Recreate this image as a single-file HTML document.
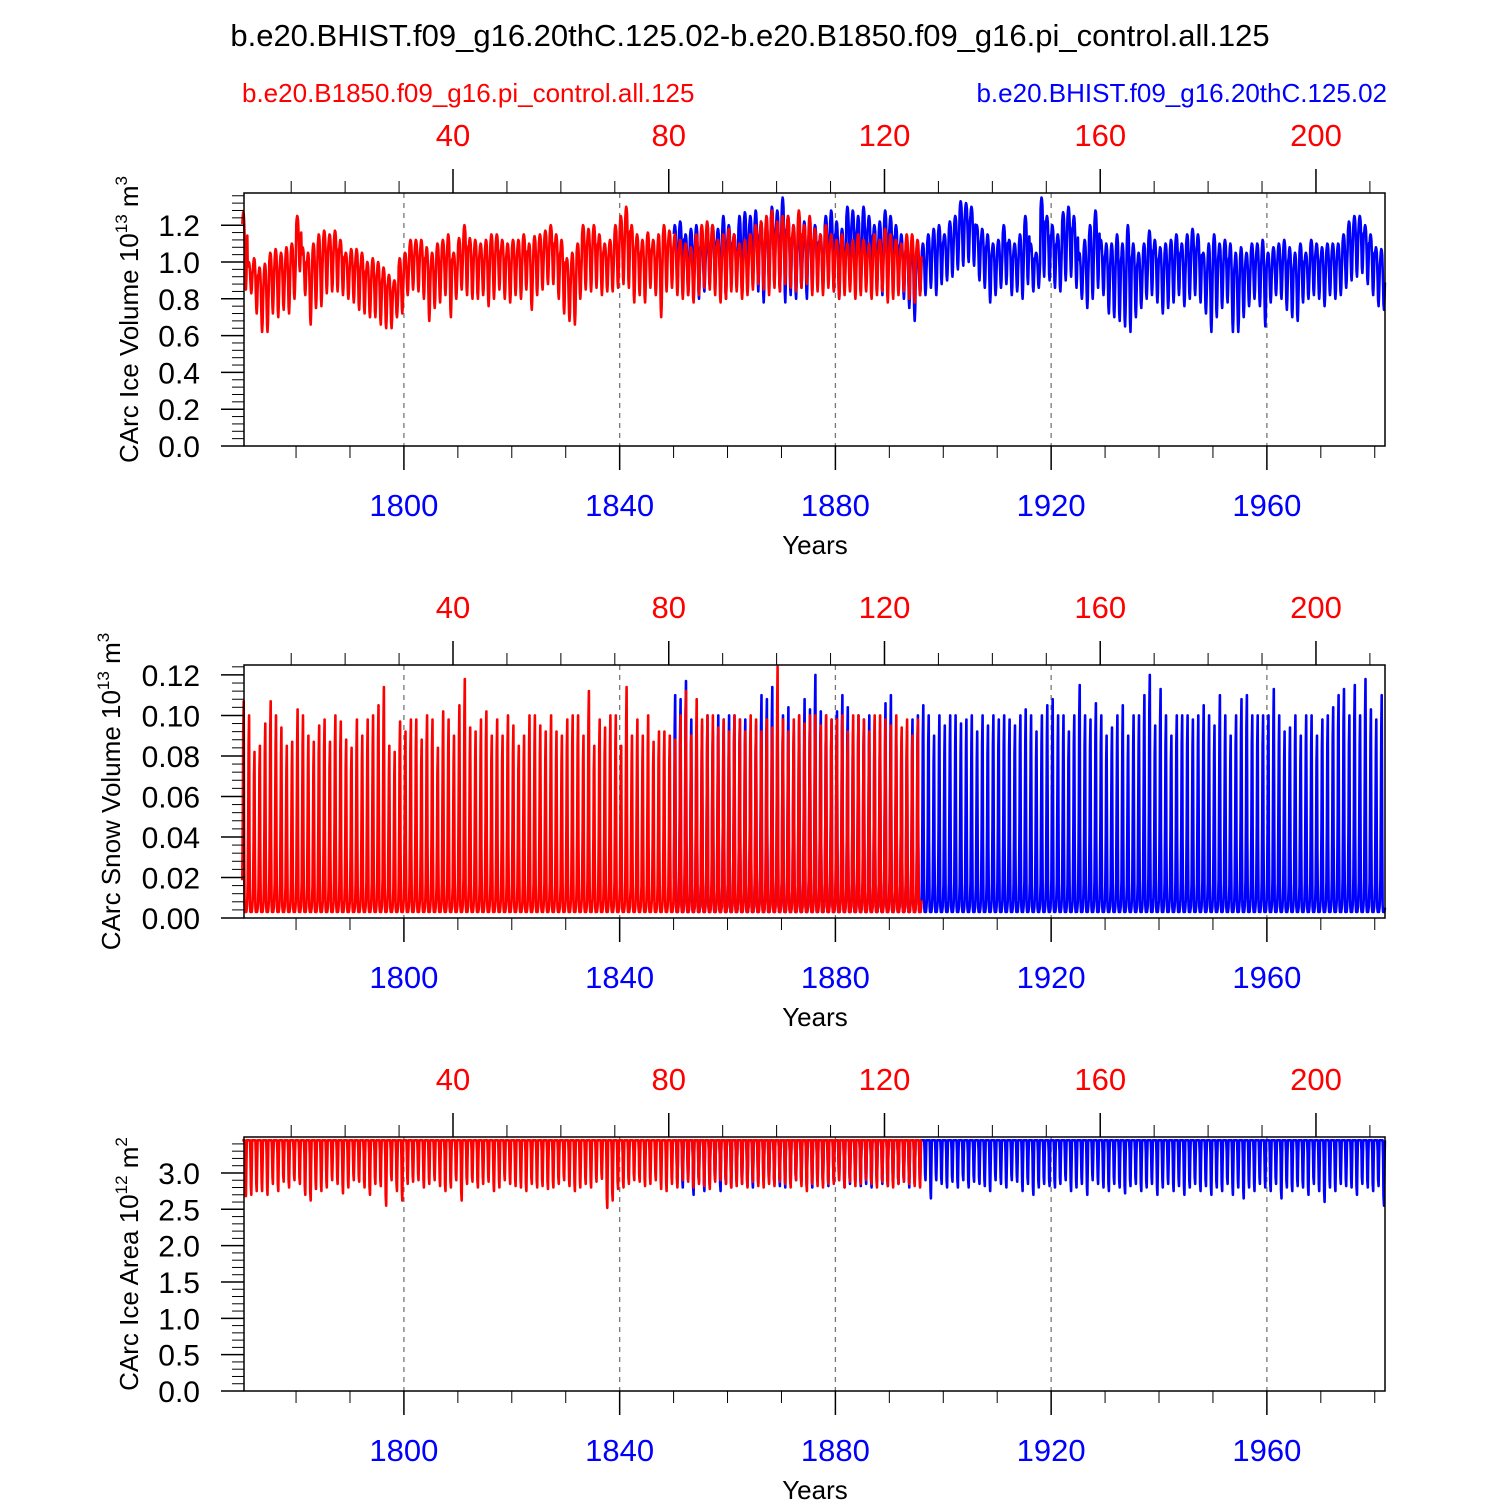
<!DOCTYPE html>
<html><head><meta charset="utf-8">
<style>
html,body{margin:0;padding:0;background:#fff;}
svg{display:block;font-family:"Liberation Sans",sans-serif;}
</style></head>
<body>
<svg id="chart" width="1500" height="1500" viewBox="0 0 1500 1500" xmlns="http://www.w3.org/2000/svg">
<text x="750" y="46" font-size="31" text-anchor="middle">b.e20.BHIST.f09_g16.20thC.125.02-b.e20.B1850.f09_g16.pi_control.all.125</text>
<text x="242" y="102" font-size="26" fill="#f00">b.e20.B1850.f09_g16.pi_control.all.125</text>
<text x="1387" y="102" font-size="26" fill="#00f" text-anchor="end">b.e20.BHIST.f09_g16.20thC.125.02</text>
</svg>
<script>
// ---- data (annual max/min) ----
const redStartYear = 1770;   // calendar position of red model year 1
const blueStartYear = 1850;
const redVolMax = [1.27,1.0,1.02,0.97,0.99,1.05,1.07,1.05,1.08,1.1,1.25,1.08,1.05,1.1,1.15,1.17,1.15,1.17,1.12,1.05,1.07,1.07,1.05,1.0,1.02,1.0,0.97,0.93,0.9,1.02,1.05,1.12,1.12,1.12,1.08,1.05,1.1,1.12,1.15,1.05,1.13,1.2,1.13,1.12,1.1,1.12,1.15,1.15,1.12,1.1,1.12,1.12,1.15,1.1,1.14,1.15,1.17,1.2,1.15,1.12,1.02,1.05,1.1,1.2,1.18,1.2,1.15,1.1,1.12,1.2,1.25,1.3,1.2,1.15,1.12,1.16,1.12,1.15,1.2,1.17,1.15,1.12,1.1,1.08,1.15,1.2,1.22,1.2,1.12,1.15,1.18,1.15,1.1,1.12,1.15,1.2,1.22,1.25,1.28,1.22,1.25,1.25,1.2,1.28,1.2,1.25,1.18,1.15,1.2,1.15,1.12,1.15,1.1,1.12,1.15,1.12,1.1,1.15,1.12,1.18,1.15,1.12,1.1,1.15,1.15,1.12];
const redVolMin = [0.85,0.83,0.72,0.62,0.62,0.72,0.7,0.74,0.72,0.8,0.95,0.82,0.66,0.75,0.76,0.83,0.84,0.84,0.82,0.8,0.78,0.74,0.72,0.7,0.7,0.66,0.64,0.64,0.7,0.72,0.82,0.85,0.84,0.8,0.68,0.75,0.78,0.82,0.7,0.8,0.85,0.82,0.8,0.8,0.82,0.76,0.8,0.85,0.8,0.78,0.82,0.8,0.85,0.74,0.82,0.85,0.88,0.88,0.8,0.72,0.68,0.66,0.8,0.85,0.84,0.86,0.82,0.84,0.84,0.86,0.88,0.86,0.78,0.82,0.78,0.86,0.82,0.7,0.84,0.86,0.82,0.8,0.82,0.78,0.82,0.86,0.85,0.82,0.78,0.8,0.84,0.84,0.8,0.82,0.85,0.88,0.85,0.82,0.86,0.84,0.88,0.86,0.84,0.86,0.88,0.82,0.84,0.82,0.86,0.84,0.8,0.82,0.84,0.8,0.82,0.84,0.8,0.82,0.84,0.78,0.8,0.82,0.84,0.8,0.78,0.82];
const blueVolMax = [1.2,1.22,1.15,1.18,1.2,1.1,1.15,1.2,1.18,1.25,1.2,1.15,1.25,1.27,1.25,1.28,1.22,1.2,1.3,1.28,1.35,1.25,1.2,1.15,1.22,1.18,1.2,1.15,1.25,1.28,1.22,1.18,1.3,1.28,1.25,1.3,1.25,1.2,1.22,1.28,1.25,1.2,1.15,1.12,1.08,1.05,1.1,1.15,1.18,1.2,1.15,1.22,1.25,1.33,1.32,1.3,1.2,1.18,1.15,1.1,1.12,1.2,1.12,1.1,1.15,1.25,1.1,1.05,1.35,1.25,1.2,1.15,1.27,1.3,1.25,1.05,1.12,1.2,1.28,1.12,1.1,1.1,1.15,1.1,1.2,1.1,1.05,1.1,1.17,1.12,1.08,1.1,1.12,1.15,1.1,1.15,1.18,1.15,1.05,1.1,1.15,1.1,1.12,1.1,1.05,1.08,1.05,1.1,1.1,1.12,1.05,1.08,1.1,1.12,1.08,1.05,1.1,1.05,1.12,1.1,1.08,1.1,1.1,1.1,1.15,1.22,1.25,1.25,1.2,1.15,1.08,1.07,1.05];
const blueVolMin = [0.88,0.9,0.82,0.86,0.8,0.84,0.88,0.9,0.84,0.8,0.88,0.9,0.82,0.86,0.9,0.84,0.78,0.9,0.88,0.84,0.78,0.82,0.8,0.86,0.8,0.84,0.9,0.86,0.9,0.84,0.8,0.86,0.92,0.88,0.84,0.88,0.9,0.86,0.82,0.86,0.88,0.84,0.8,0.75,0.68,0.82,0.82,0.86,0.82,0.88,0.9,0.92,0.96,0.98,1.0,0.98,0.9,0.86,0.78,0.82,0.86,0.88,0.82,0.84,0.8,0.88,0.84,0.86,0.92,0.9,0.86,0.84,0.9,0.92,0.86,0.8,0.75,0.8,0.86,0.82,0.72,0.7,0.68,0.65,0.62,0.7,0.75,0.8,0.82,0.78,0.72,0.75,0.78,0.82,0.76,0.8,0.82,0.78,0.72,0.62,0.7,0.75,0.78,0.62,0.62,0.7,0.76,0.8,0.76,0.65,0.78,0.82,0.8,0.74,0.7,0.68,0.78,0.8,0.82,0.8,0.76,0.82,0.8,0.82,0.86,0.9,0.92,0.94,0.88,0.82,0.76,0.74];
const redSnowMax = [0.107,0.1,0.082,0.085,0.096,0.107,0.1,0.094,0.085,0.087,0.103,0.1,0.09,0.087,0.095,0.098,0.087,0.1,0.097,0.088,0.084,0.098,0.09,0.098,0.1,0.105,0.114,0.085,0.082,0.097,0.092,0.098,0.098,0.088,0.1,0.098,0.084,0.102,0.098,0.09,0.105,0.118,0.094,0.092,0.098,0.102,0.09,0.098,0.09,0.1,0.095,0.085,0.09,0.1,0.1,0.095,0.092,0.1,0.092,0.09,0.098,0.1,0.1,0.09,0.112,0.085,0.098,0.094,0.1,0.1,0.085,0.114,0.09,0.098,0.09,0.1,0.087,0.092,0.092,0.09,0.088,0.1,0.112,0.09,0.108,0.098,0.1,0.1,0.094,0.098,0.092,0.1,0.098,0.092,0.1,0.098,0.092,0.098,0.094,0.124,0.098,0.092,0.098,0.1,0.096,0.1,0.1,0.095,0.1,0.098,0.098,0.1,0.092,0.1,0.1,0.098,0.092,0.1,0.1,0.098,0.095,0.1,0.094,0.098,0.09,0.098];
const blueSnowMax = [0.11,0.108,0.117,0.098,0.093,0.095,0.1,0.092,0.1,0.098,0.1,0.1,0.098,0.098,0.092,0.095,0.11,0.108,0.114,0.102,0.1,0.104,0.092,0.1,0.108,0.103,0.12,0.102,0.1,0.098,0.102,0.11,0.104,0.092,0.1,0.098,0.1,0.098,0.092,0.106,0.11,0.085,0.09,0.092,0.098,0.1,0.105,0.1,0.09,0.1,0.095,0.1,0.1,0.096,0.098,0.1,0.092,0.1,0.095,0.1,0.098,0.1,0.098,0.095,0.1,0.103,0.1,0.092,0.1,0.105,0.108,0.1,0.1,0.092,0.1,0.115,0.1,0.098,0.106,0.1,0.09,0.094,0.1,0.105,0.09,0.1,0.1,0.11,0.12,0.095,0.113,0.1,0.09,0.1,0.1,0.1,0.098,0.1,0.105,0.1,0.095,0.11,0.1,0.09,0.1,0.108,0.11,0.1,0.1,0.1,0.1,0.113,0.1,0.092,0.094,0.1,0.09,0.1,0.1,0.09,0.098,0.1,0.104,0.11,0.113,0.1,0.115,0.1,0.118,0.103,0.098,0.11];
const redAreaMin = [2.68,2.7,2.75,2.75,2.7,2.85,2.75,2.88,2.8,2.9,2.85,2.7,2.62,2.78,2.75,2.8,2.9,2.85,2.72,2.8,2.9,2.88,2.8,2.7,2.85,2.82,2.55,2.9,2.75,2.62,2.85,2.88,2.9,2.8,2.85,2.9,2.82,2.75,2.8,2.9,2.62,2.85,2.88,2.8,2.85,2.88,2.75,2.8,2.9,2.85,2.82,2.8,2.75,2.85,2.8,2.82,2.78,2.8,2.85,2.9,2.82,2.75,2.8,2.85,2.8,2.88,2.92,2.52,2.62,2.78,2.8,2.85,2.9,2.88,2.82,2.85,2.9,2.78,2.75,2.85,2.8,2.9,2.88,2.8,2.85,2.82,2.78,2.88,2.9,2.85,2.8,2.82,2.85,2.8,2.88,2.82,2.8,2.85,2.82,2.88,2.85,2.8,2.9,2.82,2.75,2.85,2.82,2.8,2.85,2.85,2.9,2.8,2.88,2.82,2.85,2.9,2.85,2.8,2.88,2.82,2.8,2.85,2.88,2.85,2.82,2.8];
const blueAreaMin = [2.85,2.8,2.9,2.7,2.88,2.75,2.85,2.9,2.75,2.85,2.8,2.88,2.85,2.82,2.8,2.85,2.9,2.88,2.85,2.82,2.8,2.85,2.9,2.88,2.85,2.8,2.9,2.85,2.82,2.88,2.9,2.8,2.85,2.88,2.82,2.85,2.8,2.88,2.85,2.82,2.9,2.85,2.88,2.8,2.85,2.82,2.9,2.65,2.9,2.85,2.8,2.88,2.8,2.9,2.8,2.88,2.85,2.82,2.75,2.9,2.85,2.8,2.9,2.88,2.75,2.85,2.7,2.8,2.85,2.82,2.8,2.85,2.9,2.75,2.8,2.85,2.7,2.9,2.85,2.8,2.75,2.85,2.8,2.72,2.82,2.85,2.75,2.8,2.85,2.7,2.8,2.85,2.75,2.82,2.7,2.8,2.85,2.75,2.82,2.7,2.8,2.75,2.85,2.7,2.8,2.65,2.8,2.75,2.85,2.8,2.75,2.85,2.65,2.8,2.75,2.82,2.8,2.7,2.85,2.75,2.6,2.8,2.75,2.85,2.82,2.8,2.7,2.85,2.8,2.75,2.82,2.55];
const areaMax = 3.45;
const snowMin = 0.003;
const topTickLabels = ["40","80","120","160","200"];
const bottomTickLabels = ["1800","1840","1880","1920","1960"];
</script>
<script>
const NS="http://www.w3.org/2000/svg";
const svg=document.getElementById('chart');
const X0=244,X1=1385,YR0=1770.35,YR1=1981.9;
const xs=y=>X0+(y-YR0)/(YR1-YR0)*(X1-X0);
const redOffset=1769.1;
// seasonal shape templates (fraction between annual min and max)
const volShape=[0.85,0.95,1,0.98,0.9,0.7,0.4,0.1,0,0.15,0.45,0.7];
const snowShape=[0.15,0.45,0.85,1,0.35,0.03,0,0,0,0,0.02,0.06];
const areaShape=[1,1,1,1,1,1,0.75,0.15,0,0.55,1,1];
function el(tag,attrs,parent){const e=document.createElementNS(NS,tag);for(const k in attrs)e.setAttribute(k,attrs[k]);(parent||svg).appendChild(e);return e;}
function text(x,y,s,size,fill,anchor,parent){const t=el('text',{x:x,y:y,'font-size':size,fill:fill||'#000','text-anchor':anchor||'middle'},parent);t.textContent=s;return t;}

const panels=[
 {top:193,bot:446,ymax:1.375,major:0.2,minor:0.04,dec:1,title:['CArc Ice Volume 10','13',' m','3'],tx:138,
  red:[redVolMax,redVolMin],blue:[blueVolMax,blueVolMin],shape:volShape,name:'ice-volume'},
 {top:665,bot:918,ymax:0.1249,major:0.02,minor:0.004,dec:2,title:['CArc Snow Volume 10','13',' m','3'],tx:120,
  red:[redSnowMax,null],blue:[blueSnowMax,null],shape:snowShape,name:'snow-volume'},
 {top:1137,bot:1391,ymax:3.495,major:0.5,minor:0.1,dec:1,title:['CArc Ice Area 10','12',' m','2'],tx:138,
  red:[null,redAreaMin],blue:[null,blueAreaMin],shape:areaShape,name:'ice-area'}
];

panels.forEach((p,pi)=>{
 const g=el('g',{});
 
 
 const ys=v=>p.bot-v/p.ymax*(p.bot-p.top);
 bottomTickLabels.forEach(l=>{const x=xs(+l);const gl=el('line',{x1:x,x2:x,y1:p.top,y2:p.bot,stroke:'#777','stroke-width':1.3,'stroke-dasharray':'5,5'},g);
  });
 function series(arrs,start,color,nm){
  const mx=arrs[0],mn=arrs[1];const n=(mx||mn).length;let d='';
  for(let i=0;i<n;i++){
   const hi=mx?mx[i]:areaMax, lo=mn?mn[i]:snowMin;
   for(let m=0;m<12;m++){
    const v=lo+p.shape[m]*(hi-lo);
    const x=xs(start+i+(m+0.5)/12);
    if(x>X1) continue;
    d+=(d?'L':'M')+x.toFixed(1)+','+ys(v).toFixed(1);
   }
  }
  const path=el('path',{d:d,fill:'none',stroke:color,'stroke-width':2.6,'stroke-linejoin':'round'},g);
  
  
 }
 series(p.blue,blueStartYear,'#00f','blue-series-line');
 series(p.red,redStartYear,'#f00','red-series-line');
 const fr=el('rect',{x:X0,y:p.top,width:X1-X0,height:p.bot-p.top,fill:'none',stroke:'#000','stroke-width':1.5},g);
 
 const nMin=Math.floor(p.ymax/p.minor+1e-6);
 for(let k=0;k<=nMin;k++){const v=k*p.minor;const y=ys(v);const isMaj=Math.abs(v/p.major-Math.round(v/p.major))<1e-6;
  el('line',{x1:isMaj?221:232,x2:X0,y1:y,y2:y,stroke:'#000','stroke-width':isMaj?1.5:1},g);
  if(isMaj){const t=text(200,y+11,v.toFixed(p.dec),30,'#000','end',g);}
 }
 for(let yr=1780;yr<=1980;yr+=10){const x=xs(yr);const maj=yr%40==0;
  el('line',{x1:x,x2:x,y1:p.bot,y2:p.bot+(maj?24:12),stroke:'#000','stroke-width':maj?1.5:1},g);}
 bottomTickLabels.forEach(l=>{const t=text(xs(+l),p.bot+70,l,31,'#00f','middle',g);});
 const xt=text(815,p.bot+108,'Years',26,'#000','middle',g);
 for(let ry=10;ry<=210;ry+=10){const x=xs(ry+redOffset);if(x<X0||x>X1)continue;const maj=ry%40==0;
  el('line',{x1:x,x2:x,y1:p.top,y2:p.top-(maj?24:12),stroke:'#000','stroke-width':maj?1.5:1},g);}
 topTickLabels.forEach(l=>{const t=text(xs(+l+redOffset),p.top-47,l,31,'#f00','middle',g);});
 const cy=(p.top+p.bot)/2;
 const yt=el('text',{x:0,y:0,'font-size':26,'text-anchor':'middle',transform:`translate(${p.tx},${cy}) rotate(-90)`},g);
 
 const parts=p.title;
 const a=document.createElementNS(NS,'tspan');a.textContent=parts[0];yt.appendChild(a);
 const b=document.createElementNS(NS,'tspan');b.setAttribute('dy','-11');b.setAttribute('font-size','17');b.textContent=parts[1];yt.appendChild(b);
 const c=document.createElementNS(NS,'tspan');c.setAttribute('dy','11');c.textContent=parts[2];yt.appendChild(c);
 const d=document.createElementNS(NS,'tspan');d.setAttribute('dy','-11');d.setAttribute('font-size','17');d.textContent=parts[3];yt.appendChild(d);
});
</script>
</body></html>
